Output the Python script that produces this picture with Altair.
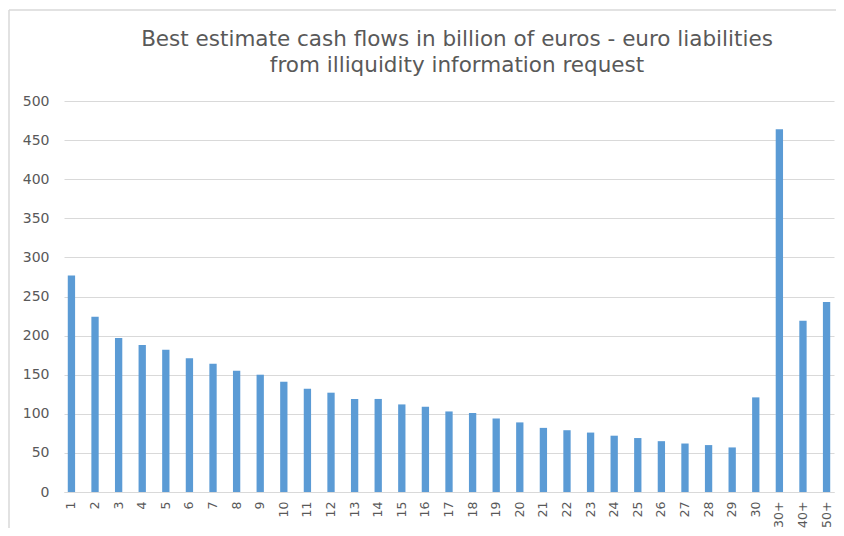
import altair as alt
import pandas as pd

categories = [str(i) for i in range(1, 31)] + ["30+", "40+", "50+"]
cash_flows = [277, 224, 197, 188, 182, 171, 164, 155, 150, 141,
              132, 127, 119, 119, 112, 109, 103, 101, 94, 89,
              82, 79, 76, 72, 69, 65, 62, 60, 57, 121,
              464, 219, 243]
y_ticks = list(range(0, 501, 50))
title_lines = ["Best estimate cash flows in billion of euros - euro liabilities",
               "from illiquidity information request"]

df = pd.DataFrame({"category": categories, "value": cash_flows})

GRAY = "#d9d9d9"
TEXT = "#595959"
FONT = "DejaVu Sans"

bars = alt.Chart(df).mark_bar(color="#5b9bd5").encode(
    x=alt.X("category:N", sort=categories, title=None,
            scale=alt.Scale(paddingInner=0.69, paddingOuter=0.16),
            axis=alt.Axis(labelAngle=270, labelFont=FONT, labelFontSize=12.5,
                          labelColor=TEXT, ticks=False, domainColor=GRAY,
                          domainWidth=1, labelPadding=9, labelBaseline="middle",
                          labelAlign="right", grid=False)),
    y=alt.Y("value:Q", title=None,
            scale=alt.Scale(domain=[0, 500], nice=False),
            axis=alt.Axis(values=y_ticks, labelFont=FONT, labelFontSize=14,
                          labelColor=TEXT, ticks=False, tickSize=0, domain=False,
                          grid=True, gridColor=GRAY, gridWidth=1, labelPadding=15)),
)

border = pd.DataFrame({"k": [0]})
top_rule = alt.Chart(border).mark_rule(color=GRAY, strokeWidth=1.5).encode(
    x=alt.value(-55), x2=alt.value(900), y=alt.value(-91))
left_rule = alt.Chart(border).mark_rule(color=GRAY, strokeWidth=1.5).encode(
    x=alt.value(-55), y=alt.value(-91), y2=alt.value(600))

title1 = alt.Chart(border).mark_text(
    text=title_lines[0], font=FONT, fontSize=21.5, color=TEXT, align="center",
    baseline="alphabetic").encode(x=alt.value(393), y=alt.value(-55))
title2 = alt.Chart(border).mark_text(
    text=title_lines[1], font=FONT, fontSize=21.5, color=TEXT, align="center",
    baseline="alphabetic").encode(x=alt.value(393), y=alt.value(-29))

chart = alt.layer(bars, top_rule, left_rule, title1, title2).properties(
    width=770, height=391,
    autosize=alt.AutoSizeParams(type="none"),
    padding={"left": 56, "top": 93, "right": 2, "bottom": 36},
).configure_view(stroke=None)

chart.save("out.html", embed_options={"renderer": "svg", "actions": False})
